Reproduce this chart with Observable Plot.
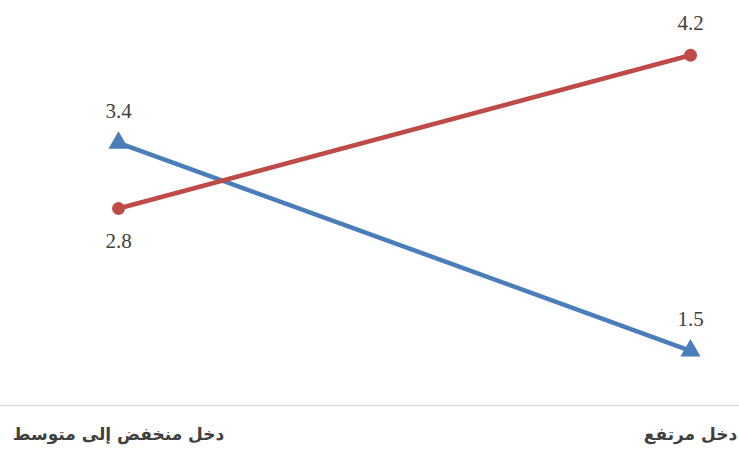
<!DOCTYPE html>
<html><head><meta charset="utf-8">
<script src="https://cdn.jsdelivr.net/npm/d3@7"></script>
<script src="https://cdn.jsdelivr.net/npm/@observablehq/plot@0.6"></script>
<style>body{margin:0;background:#fff;} svg{display:block;}
.vlab text{font-family:"Liberation Serif","Times New Roman",serif;}
.xax text{font-family:"DejaVu Sans",sans-serif;font-weight:bold;}
</style>
</head><body><div id="chart"></div>
<script>
const categories = ["دخل منخفض إلى متوسط", "دخل مرتفع"];
const seriesBlue = [3.4, 1.5];
const seriesRed = [2.8, 4.2];

const data = [
  ...categories.map((c, i) => ({cat: c, v: seriesBlue[i], s: "blue", i})),
  ...categories.map((c, i) => ({cat: c, v: seriesRed[i], s: "red", i}))
];
const colors = {blue: "#4a7ebb", red: "#be4b48"};

const chart = Plot.plot({
  width: 739, height: 454,
  marginTop: 0, marginBottom: 49, marginLeft: 0, marginRight: 0,
  x: {type: "point", domain: categories, range: [118, 690], padding: 0, label: null},
  y: {domain: [1.0, 4.7], axis: null},
  style: {background: "#fff"},
  marks: [
    Plot.ruleY([1.0], {stroke: "#d9d9d9", strokeWidth: 1.5}),
    Plot.axisX({tickSize: 0, tickPadding: 22, fontSize: 17, fill: "#404040", className: "xax", label: null}),
    Plot.line(data, {x: "cat", y: "v", z: "s", stroke: d => colors[d.s], strokeWidth: 4.5}),
    Plot.dot(data.filter(d => d.s === "red"), {x: "cat", y: "v", r: 6.5, fill: colors.red, stroke: "none"}),
    Plot.dot(data.filter(d => d.s === "blue"), {x: "cat", y: "v", symbol: "triangle", r: 7.5, fill: colors.blue, stroke: "none"}),
    Plot.text(data.filter(d => !(d.s === "red" && d.i === 0)), {x: "cat", y: "v", text: d => d.v.toFixed(1), dy: -32, fontSize: 21, fill: "#404040", className: "vlab"}),
    Plot.text(data.filter(d => d.s === "red" && d.i === 0), {x: "cat", y: "v", text: d => d.v.toFixed(1), dy: 33, fontSize: 21, fill: "#404040", className: "vlab"})
  ]
});
document.getElementById("chart").append(chart);
</script></body></html>
